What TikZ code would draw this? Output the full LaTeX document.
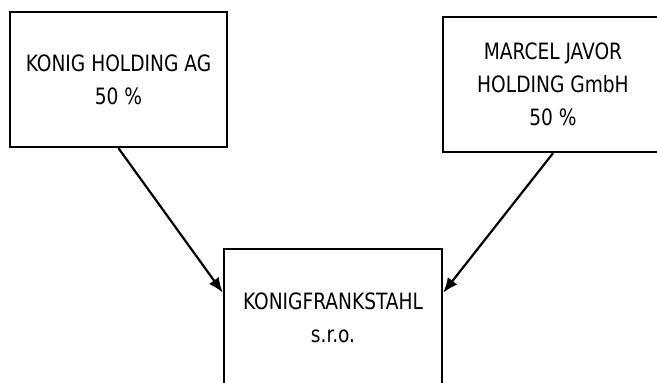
\documentclass[tikz,border=0pt]{standalone}
\usepackage{fontspec}
\newfontfamily\boxfont[FakeStretch=0.92]{DejaVu Sans Condensed}
\usetikzlibrary{arrows.meta,calc}
\begin{document}
\begin{tikzpicture}[x=1pt,y=-1pt,
  orgbox/.style={draw=black,line width=2.4pt,align=center,inner sep=0pt,
    font=\boxfont\fontsize{22.5}{33}\selectfont},
  link/.style={line width=2.2pt,-{Latex[length=15pt,width=12pt]}}]
\useasboundingbox (0,0) rectangle (657,383);
\node[orgbox,minimum width=217pt,minimum height=135pt] (kh) at (118.5,79.5)
  {KONIG HOLDING AG\\50 \%};
\node[orgbox,minimum width=220pt,minimum height=135pt] (mj) at (553,84.5)
  {MARCEL JAVOR\\HOLDING GmbH\\50 \%};
\node[orgbox,minimum width=218pt,minimum height=138pt] (kf) at (333,318)
  {KONIGFRANKSTAHL\\s.r.o.};
\draw[link] (kh.south) -- ($(kf.north west)!0.32!(kf.south west)$);
\draw[link] (mj.south) -- ($(kf.north east)!0.32!(kf.south east)$);
\end{tikzpicture}
\end{document}
